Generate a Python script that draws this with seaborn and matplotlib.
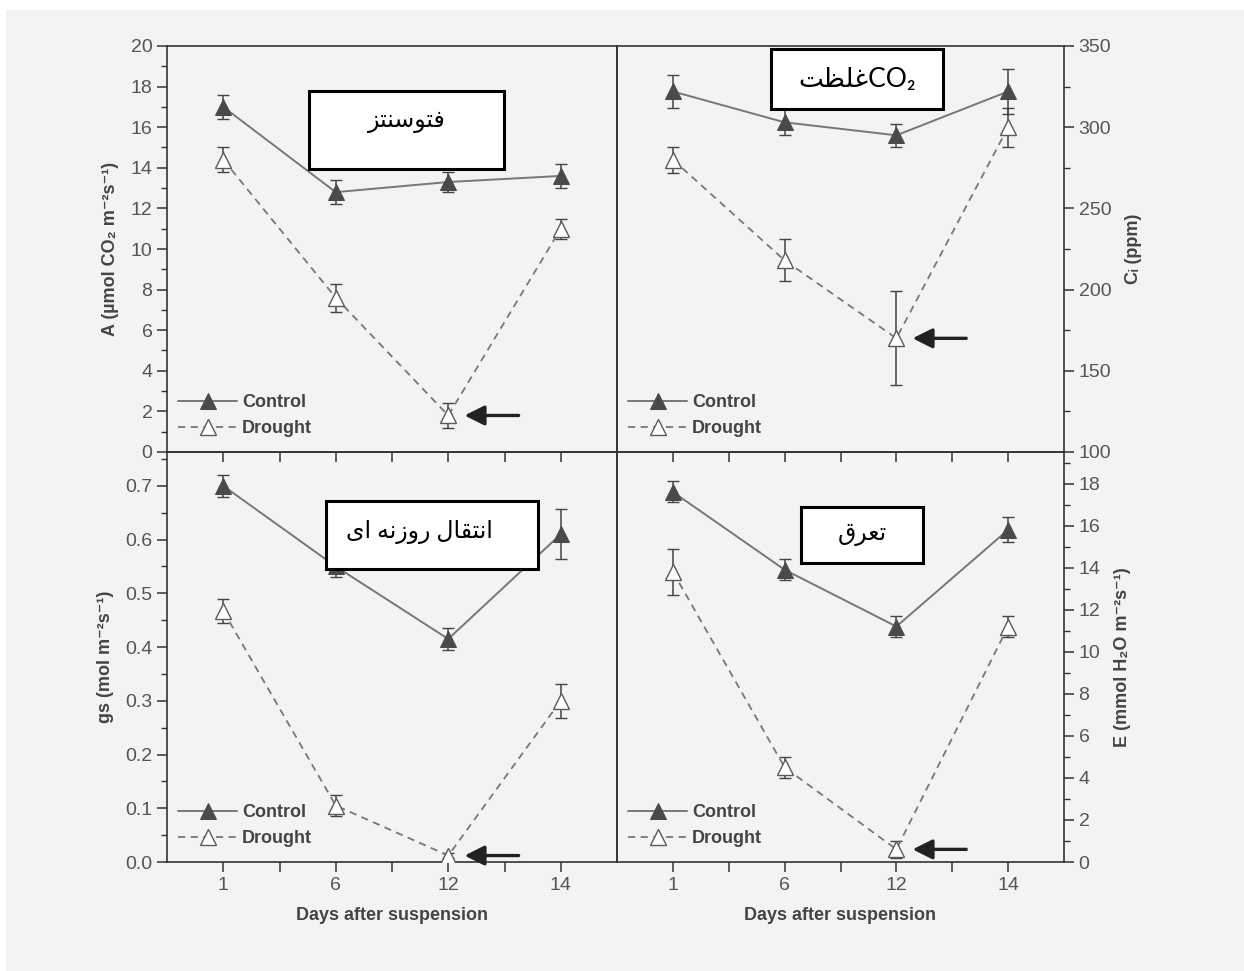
import numpy as np
import pandas as pd
import seaborn as sns
import matplotlib.pyplot as plt
from matplotlib.patches import Rectangle
from matplotlib.ticker import MultipleLocator, FixedLocator

# data
days = ['1', '6', '12', '14']

a_control = [17.0, 12.8, 13.3, 13.6]
a_control_err = [0.6, 0.6, 0.5, 0.6]
a_drought = [14.4, 7.6, 1.8, 11.0]
a_drought_err = [0.6, 0.7, 0.6, 0.5]

ci_control = [322, 303, 295, 322]
ci_control_err = [10, 8, 7, 14]
ci_drought = [280, 218, 170, 300]
ci_drought_err = [8, 13, 29, 12]

gs_control = [0.70, 0.55, 0.415, 0.61]
gs_control_err = [0.02, 0.02, 0.02, 0.047]
gs_drought = [0.467, 0.105, 0.012, 0.30]
gs_drought_err = [0.022, 0.02, 0.005, 0.032]

e_control = [17.6, 13.9, 11.2, 15.8]
e_control_err = [0.5, 0.5, 0.5, 0.6]
e_drought = [13.8, 4.5, 0.6, 11.2]
e_drought_err = [1.1, 0.5, 0.4, 0.5]

titles = ['فتوسنتز', 'غلظت', 'انتقال روزنه ای', 'تعرق']

# minimal arabic shaping (matplotlib 3.10 does no shaping / bidi)
FORMS = {
    'ا': ('\ufe8d', '\ufe8e', None, None),
    'و': ('\ufeed', '\ufeee', None, None),
    'ز': ('\ufeaf', '\ufeb0', None, None),
    'ر': ('\ufead', '\ufeae', None, None),
    'ت': ('\ufe95', '\ufe96', '\ufe97', '\ufe98'),
    'س': ('\ufeb1', '\ufeb2', '\ufeb3', '\ufeb4'),
    'ن': ('\ufee5', '\ufee6', '\ufee7', '\ufee8'),
    'ف': ('\ufed1', '\ufed2', '\ufed3', '\ufed4'),
    'غ': ('\ufecd', '\ufece', '\ufecf', '\ufed0'),
    'ل': ('\ufedd', '\ufede', '\ufedf', '\ufee0'),
    'ظ': ('\ufec5', '\ufec6', '\ufec7', '\ufec8'),
    'ق': ('\ufed5', '\ufed6', '\ufed7', '\ufed8'),
    'ه': ('\ufee9', '\ufeea', '\ufeeb', '\ufeec'),
    'ع': ('\ufec9', '\ufeca', '\ufecb', '\ufecc'),
    'ی': ('\ufeef', '\ufef0', '\ufbfe', '\ufbff'),
}


def shape(text):
    out = []
    for i, c in enumerate(text):
        if c not in FORMS:
            out.append(c)
            continue
        iso, fin, ini, med = FORMS[c]
        prev = text[i - 1] if i > 0 else None
        nxt = text[i + 1] if i + 1 < len(text) else None
        jp = prev in FORMS and FORMS[prev][2] is not None
        jn = nxt in FORMS and ini is not None
        if jp and jn:
            out.append(med)
        elif jp:
            out.append(fin)
        elif jn:
            out.append(ini)
        else:
            out.append(iso)
    return ''.join(reversed(out))


sns.set_style('ticks')
plt.rcParams['font.family'] = ['Liberation Sans', 'DejaVu Sans']
plt.rcParams['axes.linewidth'] = 1.2

W, H = 1244, 971
fig = plt.figure(figsize=(W / 100, H / 100), dpi=100, facecolor='#f3f3f1')
fig.add_artist(Rectangle((0, 1 - 10 / H), 1, 10 / H, transform=fig.transFigure,
                         fc='white', ec='none', zorder=0))
fig.add_artist(Rectangle((0, 0), 6 / W, 1, transform=fig.transFigure,
                         fc='white', ec='none', zorder=0))

L, M, R = 167 / W, 617 / W, 1064 / W
T, Mi, B = 1 - 46 / H, 1 - 452 / H, 1 - 862 / H
ax_a = fig.add_axes([L, Mi, M - L, T - Mi])
ax_ci = fig.add_axes([M, Mi, R - M, T - Mi])
ax_gs = fig.add_axes([L, B, M - L, Mi - B])
ax_e = fig.add_axes([M, B, R - M, Mi - B])

gray = '#5a5a5a'


def panel(ax, control, cerr, drought, derr):
    ax.set_facecolor('none')
    dc = pd.DataFrame({'day': days, 'val': control})
    dd = pd.DataFrame({'day': days, 'val': drought})
    ax.errorbar(days, control, yerr=cerr, fmt='none', ecolor='#444', elinewidth=1.1, capsize=4, zorder=2)
    ax.errorbar(days, drought, yerr=derr, fmt='none', ecolor='#444', elinewidth=1.1, capsize=4, zorder=2)
    sns.lineplot(data=dc, x='day', y='val', sort=False, ax=ax, color='#777', lw=1.4,
                 marker='^', markersize=12, markerfacecolor='#4a4a4a', markeredgecolor='#4a4a4a',
                 label='Control', zorder=3)
    sns.lineplot(data=dd, x='day', y='val', sort=False, ax=ax, color='#777', lw=1.3,
                 linestyle=(0, (4, 3)), marker='^', markersize=12, markerfacecolor='white',
                 markeredgecolor=gray, markeredgewidth=1.0, label='Drought', zorder=3)
    ax.set_xlim(-0.5, 3.5)
    ax.set_xlabel('')
    ax.set_ylabel('')
    ax.xaxis.set_minor_locator(FixedLocator([0.5, 1.5, 2.5]))
    ax.tick_params(axis='x', which='both', direction='out', length=7, width=1.1, colors='#333',
                   labelsize=14, labelcolor='#555')
    ax.tick_params(axis='y', which='major', direction='out', length=7, width=1.1, colors='#333',
                   labelsize=14, labelcolor='#555')
    ax.tick_params(axis='y', which='minor', direction='out', length=4, width=1.0, colors='#333')
    for s in ax.spines.values():
        s.set_color('#333')
        s.set_visible(True)
    leg = ax.legend(loc='lower left', bbox_to_anchor=(0.0, 0.01), frameon=False, handlelength=3.3,
                    handletextpad=0.25, labelspacing=0.5, borderaxespad=0.2,
                    prop={'weight': 'bold', 'size': 13})
    for t in leg.get_texts():
        t.set_color('#444')
    # arrow pointing at the drought day-12 point
    ax.annotate('', xy=(2.12, drought[2]), xytext=(2.65, drought[2]),
                arrowprops=dict(arrowstyle='-|>', color='#222', lw=2.4, mutation_scale=30), zorder=4)


panel(ax_a, a_control, a_control_err, a_drought, a_drought_err)
panel(ax_ci, ci_control, ci_control_err, ci_drought, ci_drought_err)
panel(ax_gs, gs_control, gs_control_err, gs_drought, gs_drought_err)
panel(ax_e, e_control, e_control_err, e_drought, e_drought_err)

lab = dict(fontsize=13, fontweight='bold', color='#444')

ax_a.set_ylim(0, 20)
ax_a.yaxis.set_major_locator(MultipleLocator(2))
ax_a.yaxis.set_minor_locator(MultipleLocator(1))
ax_a.tick_params(axis='x', labelbottom=False)
ax_a.set_ylabel('A (µmol CO₂ m⁻²s⁻¹)', labelpad=8, **lab)

ax_ci.set_ylim(100, 350)
ax_ci.yaxis.set_major_locator(MultipleLocator(50))
ax_ci.yaxis.set_minor_locator(MultipleLocator(25))
ax_ci.yaxis.tick_right()
ax_ci.yaxis.set_label_position('right')
ax_ci.tick_params(axis='x', labelbottom=False)
ax_ci.set_ylabel('Cᵢ (ppm)', rotation=90, labelpad=10, **lab)

ax_gs.set_ylim(0, 0.763)
ax_gs.yaxis.set_major_locator(FixedLocator([0.0, 0.1, 0.2, 0.3, 0.4, 0.5, 0.6, 0.7]))
ax_gs.yaxis.set_minor_locator(FixedLocator([0.05, 0.15, 0.25, 0.35, 0.45, 0.55, 0.65, 0.75]))
ax_gs.yaxis.set_major_formatter('{x:.1f}')
ax_gs.set_ylabel('gs (mol m⁻²s⁻¹)', labelpad=8, **lab)
ax_gs.set_xlabel('Days after suspension', labelpad=10, **lab)

ax_e.set_ylim(0, 19.5)
ax_e.yaxis.set_major_locator(FixedLocator(list(range(0, 19, 2))))
ax_e.yaxis.set_minor_locator(FixedLocator(list(range(1, 20, 2))))
ax_e.yaxis.tick_right()
ax_e.yaxis.set_label_position('right')
ax_e.set_ylabel('E (mmol H₂O m⁻²s⁻¹)', rotation=90, labelpad=10, **lab)
ax_e.set_xlabel('Days after suspension', labelpad=10, **lab)


def box(x0, y0, x1, y1, text, tx, ty, size=17):
    fig.add_artist(Rectangle((x0 / W, 1 - y1 / H), (x1 - x0) / W, (y1 - y0) / H,
                             transform=fig.transFigure, fc='white', ec='black', lw=2.2, zorder=5))
    fig.text(tx / W, 1 - ty / H, text, ha='center', va='center', zorder=6, fontsize=size,
             color='black', family=['Lato', 'DejaVu Sans'])


box(309, 91, 504, 169, shape(titles[0]), 407, 122)
box(771, 49, 943, 109, shape(titles[1]) + 'CO₂', 857, 80, size=19)
box(326, 501, 538, 569, shape(titles[2]), 419, 532)
box(801, 507, 923, 563, shape(titles[3]), 862, 535)

fig.savefig('out.png', dpi=100, facecolor=fig.get_facecolor())
